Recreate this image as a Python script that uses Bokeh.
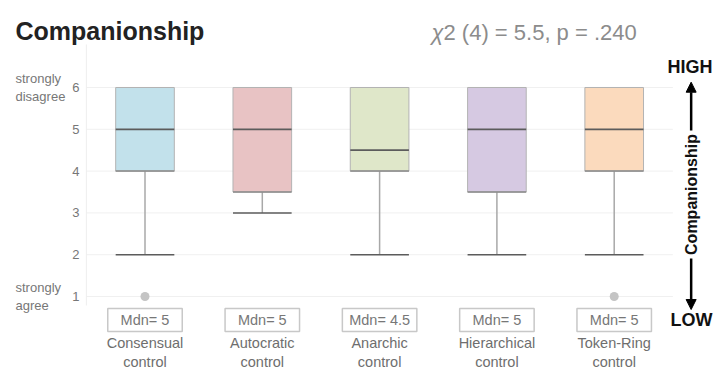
from bokeh.plotting import figure
from bokeh.models import ColumnDataSource, Range1d, Arrow, NormalHead
from bokeh.core.properties import value
from bokeh.embed import file_html
from bokeh.resources import INLINE

# --- data -------------------------------------------------------------
categories = ["Consensual\ncontrol", "Autocratic\ncontrol", "Anarchic\ncontrol",
              "Hierarchical\ncontrol", "Token-Ring\ncontrol"]
q1 = [4, 3.5, 4, 3.5, 4]
median = [5, 5, 4.5, 5, 5]
q3 = [6, 6, 6, 6, 6]
whisker_low = [2, 3, 2, 2, 2]
whisker_high = [6, 6, 6, 6, 6]
outlier_group = [0, 4]
outlier_value = [1, 1]
box_colors = ["#c2e1eb", "#e8c3c4", "#dfe7c9", "#d6c9e2", "#fbdabd"]

y_ticks = [1, 2, 3, 4, 5, 6]
scale_ends = {6: "strongly\ndisagree", 1: "strongly\nagree"}

chi2_df = 4
chi2_value = 5.5
p_value = ".240"

FONT = value("Liberation Sans")
GREY_TEXT = "#777777"

idx = list(range(len(categories)))

p = figure(width=717, height=370, output_backend="svg", toolbar_location=None,
           x_range=Range1d(-1.2319, 4.8806), y_range=Range1d(-0.7703, 8.0813),
           x_axis_location=None, y_axis_location=None, min_border=0)
p.xgrid.visible = False
p.ygrid.visible = False
p.outline_line_color = None
p.background_fill_color = "white"
p.border_fill_color = "white"

# light horizontal guides at each scale point
p.segment(x0=[-0.5] * len(y_ticks), x1=[4.5] * len(y_ticks), y0=y_ticks, y1=y_ticks,
          line_color="#f0f0f0", line_width=1)
# faint left boundary of the plotting area
p.segment(x0=[-0.5], x1=[-0.5], y0=[0.785], y1=[7.03], line_color="#eeeeee", line_width=1)

# y tick labels and scale-end descriptions
p.text(x=[-0.558] * len(y_ticks), y=y_ticks, text=[str(t) for t in y_ticks],
       text_font=FONT, text_font_size="13px", text_color=GREY_TEXT,
       text_align="right", text_baseline="middle")
p.text(x=[-1.104] * len(scale_ends), y=list(scale_ends.keys()),
       text=list(scale_ends.values()), text_font=FONT, text_font_size="13px",
       text_color=GREY_TEXT, text_align="left", text_baseline="middle",
       text_line_height=1.15)

# --- box plot ---------------------------------------------------------
src = ColumnDataSource(dict(x=idx, q1=q1, med=median, q3=q3, lo=whisker_low,
                            hi=whisker_high, color=box_colors,
                            left=[i - 0.25 for i in idx], right=[i + 0.25 for i in idx]))

# whisker stems and caps
p.segment(x0="x", x1="x", y0="q1", y1="lo", source=src, line_color="#a8a8a8", line_width=1.5)
p.segment(x0="x", x1="x", y0="q3", y1="hi", source=src, line_color="#a8a8a8", line_width=1.5)
p.segment(x0="left", x1="right", y0="lo", y1="lo", source=src, line_color="#5c5c5c", line_width=1.5)

# boxes
p.vbar(x="x", width=0.5, bottom="q1", top="q3", source=src, fill_color="color",
       line_color="#b3b3b3", line_width=1)
p.segment(x0="left", x1="right", y0="q1", y1="q1", source=src, line_color="#8a8a8a", line_width=1.5)
# medians
p.segment(x0="left", x1="right", y0="med", y1="med", source=src, line_color="#5c5c5c", line_width=1.8)

# outliers
p.scatter(x=outlier_group, y=outlier_value, size=9, fill_color="#c4c4c4", line_color=None)

# --- median boxes and category labels --------------------------------
mdn_y = 0.438
p.rect(x=idx, y=[mdn_y] * len(idx), width=0.635, height=0.55, fill_color="white",
       line_color="#c8c8c8", line_width=1.5)
p.text(x=idx, y=[mdn_y] * len(idx), text=[f"Mdn= {m:g}" for m in median],
       text_font=FONT, text_font_size="14.5px", text_color=GREY_TEXT,
       text_align="center", text_baseline="middle")
p.text(x=idx, y=[-0.34] * len(idx), text=categories, text_font=FONT,
       text_font_size="14.5px", text_color="#6e6e6e", text_align="center",
       text_baseline="middle", text_line_height=1.2)

# --- titles -----------------------------------------------------------
p.text(x=[-1.104], y=[7.34], text=["Companionship"], text_font=FONT,
       text_font_size="25px", text_font_style="bold", text_color="#222222",
       text_align="left", text_baseline="alphabetic")
p.text(x=[2.4425], y=[7.316], text=["\u03c7"], text_font=FONT,
       text_font_size="22px", text_font_style="italic", text_color="#8c8c8c",
       text_align="left", text_baseline="alphabetic")
p.text(x=[2.5448], y=[7.316], text=[f"2 ({chi2_df}) = {chi2_value:g}, p = {p_value}"],
       text_font=FONT, text_font_size="22px", text_color="#8c8c8c",
       text_align="left", text_baseline="alphabetic")

# --- direction indicator on the right ---------------------------------
arrow_x = 4.656
p.text(x=[4.838, 4.838], y=[6.49, mdn_y], text=["HIGH", "LOW"], text_font=FONT,
       text_font_size="18px", text_font_style="bold", text_color="#111111",
       text_align="right", text_baseline="middle")
p.text(x=[arrow_x], y=[3.44], text=["Companionship"], angle=1.5708, text_font=FONT,
       text_font_size="16px", text_font_style="bold", text_color="#111111",
       text_align="center", text_baseline="middle")
p.add_layout(Arrow(end=NormalHead(size=10, fill_color="black", line_color="black"),
                   x_start=arrow_x, y_start=4.97, x_end=arrow_x, y_end=6.127,
                   line_width=2.5, line_color="black"))
p.add_layout(Arrow(end=NormalHead(size=10, fill_color="black", line_color="black"),
                   x_start=arrow_x, y_start=1.907, x_end=arrow_x, y_end=0.689,
                   line_width=2.5, line_color="black"))

open("out.html", "w").write(file_html(p, INLINE))
